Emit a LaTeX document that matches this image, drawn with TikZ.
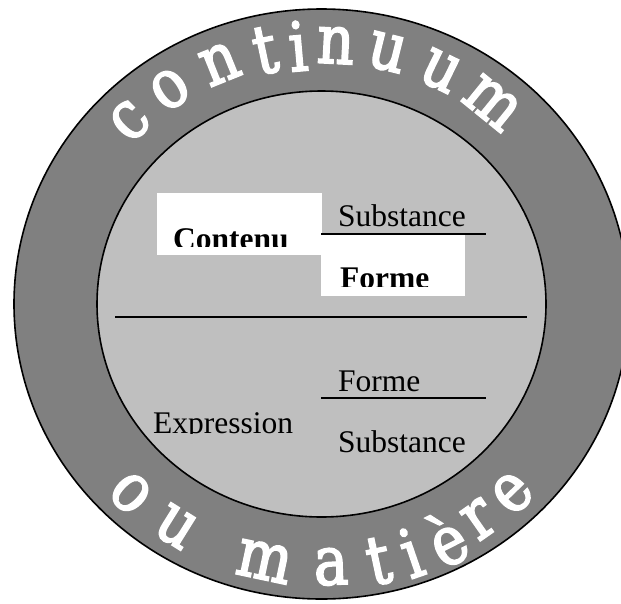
\documentclass[tikz,border=0pt]{standalone}
\usepackage{fontspec}
\setmainfont{Liberation Serif}
\newfontfamily\ringfont[FakeStretch=0.85,FakeBold=2.5]{DejaVu Serif}
\definecolor{ringgray}{gray}{0.5}
\definecolor{discgray}{gray}{0.75}
\tikzset{>=latex}

\begin{document}
\begin{tikzpicture}[x=1pt,y=-1pt,
  word/.style={inner sep=0pt,anchor=base west,font=\fontsize{31.5}{36}\selectfont},
  boldword/.style={word,font=\fontsize{31.5}{36}\selectfont\bfseries},
  ringletter/.style={inner sep=0pt,anchor=center,text=white,font=\ringfont\fontsize{68}{76}\selectfont},
  rule/.style={line width=1.6pt}]
  \pgfmathsetmacro{\cx}{321.5}
  \pgfmathsetmacro{\cy}{304}
  \clip (0,0) rectangle (621,603);
  % outer ring and inner disc
  \draw[rule,fill=ringgray] (\cx,\cy) ellipse [x radius=307.5pt,y radius=295pt];
  \draw[rule,fill=discgray] (\cx,\cy) ellipse [x radius=224.5pt,y radius=213pt];
  % text round the ring
  \foreach \l/\a [count=\i] in {c/135,o/124,n/112,t/102,i/95,n/87,u/76,u/64,m/51} {%
    \node[ringletter,rotate=\a-90] (top\i) at ({\cx+271*cos(\a)},{\cy-259*sin(\a)}) {\l};
  }
  \foreach \l/\a [count=\i] in {o/-134,u/-122,m/-102,a/-88,t/-78,i/-71,è/-63,r/-55,e/-46} {%
    \node[ringletter,rotate=\a+90] (bot\i) at ({\cx+275*cos(\a)},{\cy-263*sin(\a)}) {\l};
  }
  % contenu
  \fill[white] (157,193) rectangle (322,255);
  \fill[white] (321,234) rectangle (465,296);
  \node[word] (csub) at (338,226) {Substance};
  \draw[rule] (321,234) -- (486,234);
  \begin{scope}
    \clip (150,190) rectangle (330,246.5);
    \node[boldword] (cont) at (173,249) {Contenu};
  \end{scope}
  \begin{scope}
    \clip (325,240) rectangle (470,286.5);
    \node[boldword] (cform) at (340,288) {Forme};
  \end{scope}
  \draw[rule] (115,317) -- (527,317);
  % expression
  \node[word] (eform) at (338,391) {Forme};
  \draw[rule] (321,398) -- (486,398);
  \node[word] (esub) at (338,452) {Substance};
  \begin{scope}
    \clip (140,400) rectangle (310,433);
    \node[word] (expr) at (153,433) {Expression};
  \end{scope}
\end{tikzpicture}
\end{document}
